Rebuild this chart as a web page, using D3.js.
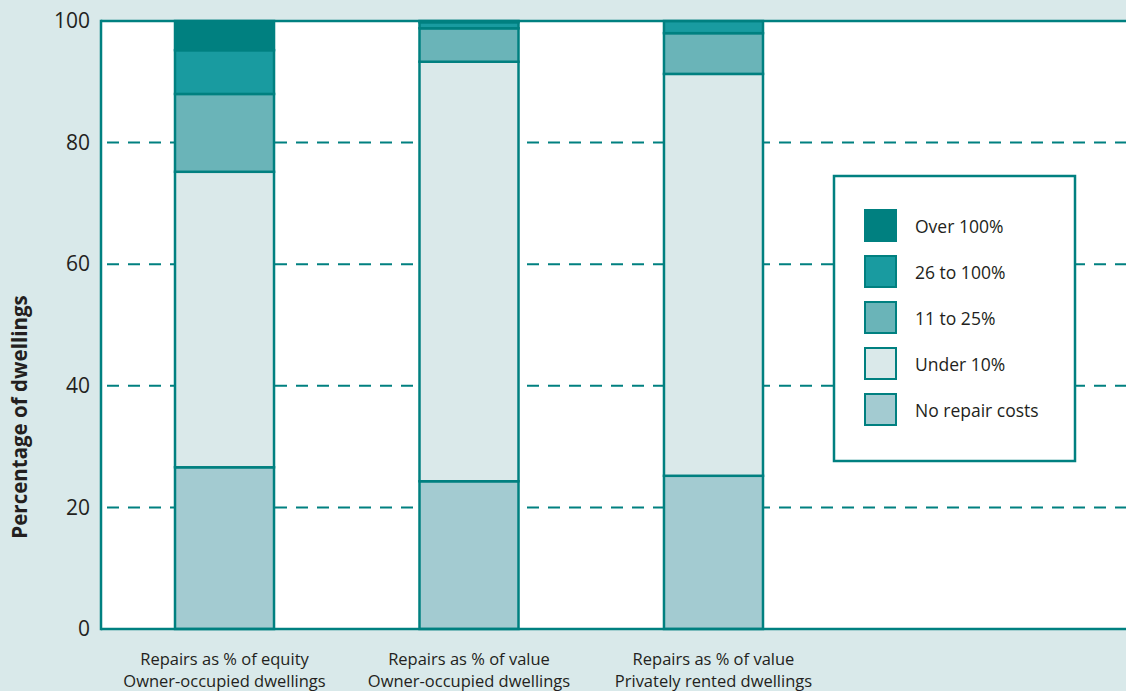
<!DOCTYPE html>
<html>
<head>
<meta charset="utf-8">
<script src="https://cdn.jsdelivr.net/npm/d3@7"></script>
<style>
  html, body { margin: 0; padding: 0; background: #d9e9ea; }
  svg { display: block; }
  text { font-family: "Open Sans", "Noto Sans", sans-serif; fill: #231f20; }
</style>
</head>
<body>
<svg id="chart" width="1126" height="691"></svg>
<script>
// Categories (two-line labels)
const categories = [
  ["Repairs as % of equity", "Owner-occupied dwellings"],
  ["Repairs as % of value", "Owner-occupied dwellings"],
  ["Repairs as % of value", "Privately rented dwellings"]
];
const categoryKeys = ["equity-owner", "value-owner", "value-rented"];

// Series, bottom to top of each stack
const seriesNames = ["No repair costs", "Under 10%", "11 to 25%", "26 to 100%", "Over 100%"];
const noRepair   = [26.6, 24.3, 25.2];
const under10    = [48.6, 69.0, 66.1];
const from11to25 = [12.8, 5.5, 6.7];
const from26to100 = [7.2, 1.0, 2.0];
const over100    = [4.8, 0.2, 0.0];

const yTicks = [0, 20, 40, 60, 80, 100];
const yTitle = "Percentage of dwellings";

const colors = ["#a3cbd1", "#dae9ea", "#6ab4b8", "#199ba0", "#008080"];
const teal = "#008080";

const svg = d3.select("#chart");
const W = 1126, H = 691;

const y = d3.scaleLinear().domain([0, 100]).range([629, 21]);
const x = d3.scaleBand()
  .domain(categoryKeys)
  .range([101, 837])
  .paddingInner(0.595)
  .paddingOuter(0.3027);

// Plot area
svg.append("rect")
  .attr("x", 101).attr("y", y(100))
  .attr("width", W - 101).attr("height", y(0) - y(100))
  .attr("fill", "#ffffff");

// Dashed gridlines
svg.append("g").selectAll("line")
  .data(yTicks.filter(t => t > 0 && t < 100))
  .join("line")
  .attr("x1", 101).attr("x2", W)
  .attr("y1", d => y(d)).attr("y2", d => y(d))
  .attr("stroke", teal).attr("stroke-width", 2)
  .attr("stroke-dasharray", "12,9")
  .attr("stroke-dashoffset", -6);

// Stack data
const rows = categoryKeys.map((k, i) => ({
  key: k,
  "No repair costs": noRepair[i],
  "Under 10%": under10[i],
  "11 to 25%": from11to25[i],
  "26 to 100%": from26to100[i],
  "Over 100%": over100[i]
}));
const stacked = d3.stack().keys(seriesNames)(rows);

svg.append("g").selectAll("g")
  .data(stacked)
  .join("g")
  .attr("fill", (d, i) => colors[i])
  .selectAll("rect")
  .data(d => d.filter(s => s[1] - s[0] > 0))
  .join("rect")
  .attr("x", d => x(d.data.key))
  .attr("width", x.bandwidth())
  .attr("y", d => y(d[1]))
  .attr("height", d => y(d[0]) - y(d[1]))
  .attr("stroke", teal)
  .attr("stroke-width", 2.5);

// Frame: top, left, bottom lines
svg.append("line").attr("x1", 101).attr("x2", W).attr("y1", y(100)).attr("y2", y(100))
  .attr("stroke", teal).attr("stroke-width", 2.5);
svg.append("line").attr("x1", 101).attr("x2", W).attr("y1", y(0)).attr("y2", y(0))
  .attr("stroke", teal).attr("stroke-width", 2.5);
svg.append("line").attr("x1", 101).attr("x2", 101).attr("y1", y(100) - 1.25).attr("y2", y(0) + 1.25)
  .attr("stroke", teal).attr("stroke-width", 2.5);

// Y axis labels
const yAxis = d3.axisLeft(y).tickValues(yTicks).tickSize(0).tickPadding(11);
const gy = svg.append("g").attr("transform", "translate(101,0)").call(yAxis);
gy.select(".domain").remove();
gy.selectAll("text")
  .attr("font-size", 21)
  .attr("font-family", "'Open Sans', 'Noto Sans', sans-serif")
  .attr("fill", "#231f20");

// Y title
svg.append("text")
  .attr("transform", `translate(27,${(y(0) + y(100)) / 2 + 92}) rotate(-90)`)
  .attr("text-anchor", "middle")
  .attr("font-size", 20.5)
  .attr("font-weight", "bold")
  .text(yTitle);

// X labels: two separate lines per category
const cx = d => x(d) + x.bandwidth() / 2;
[0, 1].forEach(line => {
  svg.append("g").selectAll("text")
    .data(categoryKeys)
    .join("text")
    .attr("text-anchor", "middle")
    .attr("font-size", 16.5)
    .attr("x", cx)
    .attr("y", 664.5 + line * 22.5)
    .text((d, i) => categories[i][line]);
});

// Legend
const lg = svg.append("g").attr("transform", "translate(834,176)");
lg.append("rect")
  .attr("width", 241).attr("height", 285)
  .attr("fill", "#ffffff").attr("stroke", teal).attr("stroke-width", 2.5);
const legendOrder = seriesNames.slice().reverse();
const item = lg.selectAll("g.item")
  .data(legendOrder)
  .join("g")
  .attr("class", "item")
  .attr("transform", (d, i) => `translate(31,${34 + i * 46})`);
item.append("rect")
  .attr("width", 31).attr("height", 31)
  .attr("fill", d => colors[seriesNames.indexOf(d)])
  .attr("stroke", teal).attr("stroke-width", 2);
item.append("text")
  .attr("x", 50).attr("y", 16)
  .attr("dominant-baseline", "central")
  .attr("font-size", 17.5)
  .text(d => d);
</script>
</body>
</html>
